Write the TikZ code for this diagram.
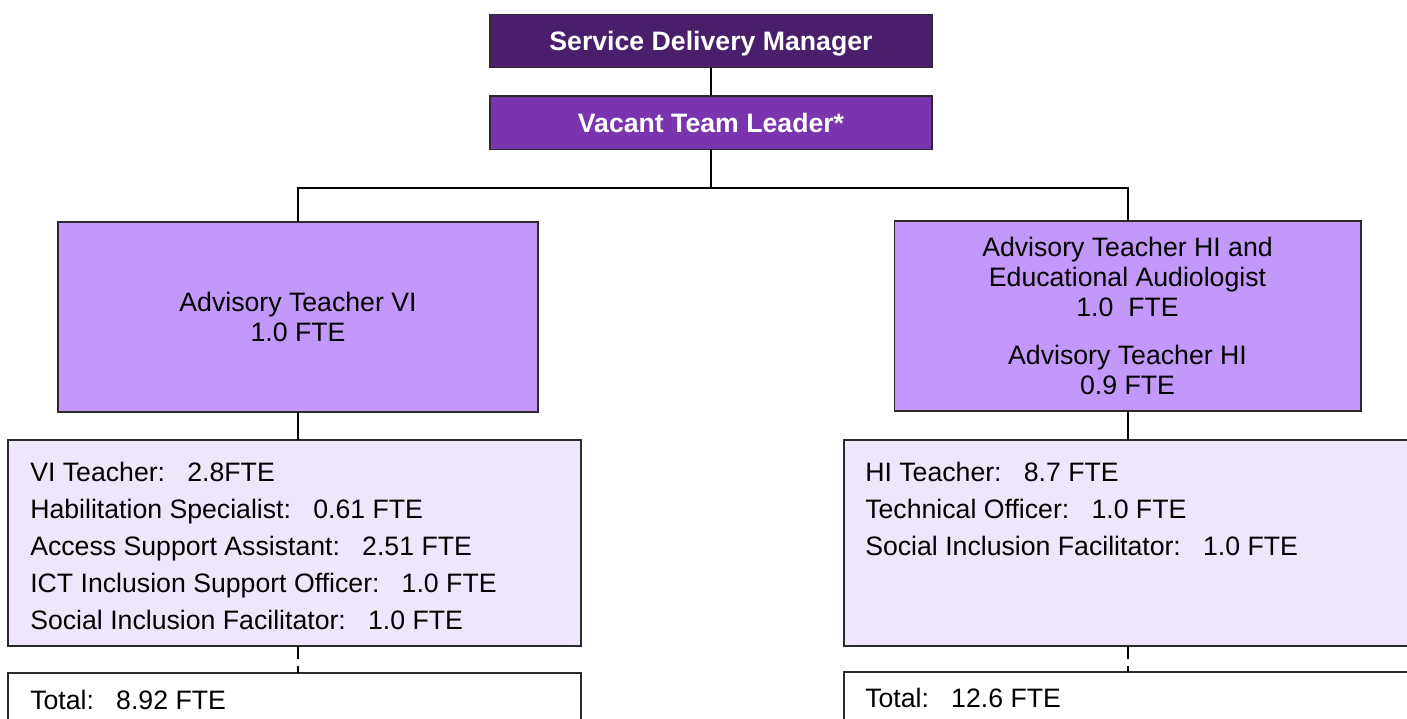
\documentclass[tikz,border=0pt]{standalone}
\usepackage{fontspec}
\setmainfont{Liberation Sans}
\usetikzlibrary{positioning}

\definecolor{sdmpurple}{HTML}{4B1E6B}
\definecolor{leadpurple}{HTML}{7A34AD}
\definecolor{advpurple}{HTML}{C498FA}
\definecolor{staffpurple}{HTML}{F0E6FC}
\definecolor{edgegray}{HTML}{2B2B2B}

\newcommand{\fgap}{\ \ \ }

\begin{document}
\begin{tikzpicture}[x=0.75pt, y=-0.75pt]
        \tikzstyle{box}=[draw=edgegray, line width=1pt, inner sep=0pt, outer sep=0pt]
        \tikzstyle{headbox}=[box, text=white, font=\fontsize{20}{24}\selectfont\bfseries, text height=14.3pt, text depth=0pt, minimum width=331.5pt, minimum height=40pt]
        \tikzstyle{advbox}=[box, fill=advpurple, align=center, font=\fontsize{20}{22.5}\selectfont, minimum height=142.5pt]
        \tikzstyle{listtext}=[inner sep=0pt, anchor=north west, align=left, font=\fontsize{20}{27.75}\selectfont]
        \tikzstyle{link}=[line width=1.5pt, black]
        \tikzstyle{dashlink}=[link, dash pattern=on 10pt off 5pt]

        \useasboundingbox (0,0) rectangle (1407,718);
        \clip (0,0) rectangle (1407,718);

        \node[headbox, fill=sdmpurple] (sdm) at (711,41) {Service Delivery Manager};
        \node[headbox, fill=leadpurple] (lead) at (711,122.5) {Vacant Team Leader*};

        \node[advbox, minimum width=360pt] (advvi) at (298,317) {Advisory Teacher VI\\1.0 FTE};
        \node[advbox, minimum width=350pt] (advhi) at (1127.5,316)
            {Advisory Teacher HI and\\Educational Audiologist\\1.0\ \ FTE\\[13pt]Advisory Teacher HI\\0.9 FTE};

        \node[box, fill=staffpurple, minimum width=429.75pt, minimum height=154.5pt] (staffvi) at (294.5,543) {};
        \node[box, fill=staffpurple, minimum width=447pt, minimum height=154.5pt] (staffhi) at (1142,543) {};
        \node[box, fill=white, minimum width=429.75pt, minimum height=75pt] (totvi) at (294.5,723) {};
        \node[box, fill=white, minimum width=447pt, minimum height=75pt] (tothi) at (1142,722) {};

        \node[listtext] (listvi) at ([xshift=16.5pt, yshift=-16.5pt]staffvi.north west)
            {VI Teacher:\fgap 2.8FTE\\Habilitation Specialist:\fgap 0.61 FTE\\Access Support Assistant:\fgap 2.51 FTE\\ICT Inclusion Support Officer:\fgap 1.0 FTE\\Social Inclusion Facilitator:\fgap 1.0 FTE};
        \node[listtext] (listhi) at ([xshift=15.75pt, yshift=-16.5pt]staffhi.north west)
            {HI Teacher:\fgap 8.7 FTE\\Technical Officer:\fgap 1.0 FTE\\Social Inclusion Facilitator:\fgap 1.0 FTE};
        \node[listtext] (sumvi) at ([xshift=16.5pt, yshift=-13pt]totvi.north west) {Total:\fgap 8.92 FTE};
        \node[listtext] (sumhi) at ([xshift=15.75pt, yshift=-12pt]tothi.north west) {Total:\fgap 12.6 FTE};

        \coordinate (bar) at (711,188);

        \draw[link] (sdm) -- (lead);
        \draw[link] (lead) -- (bar);
        \draw[link] (advvi.north) |- (bar) -| (advhi.north);
        \draw[link] (advvi.south) -- (advvi.south |- staffvi.north);
        \draw[link] (advhi.south) -- (advhi.south |- staffhi.north);
        \draw[dashlink] (advvi.south |- staffvi.south) -- (advvi.south |- totvi.north);
        \draw[dashlink] (advhi.south |- staffhi.south) -- (advhi.south |- tothi.north);
    \end{tikzpicture}
\end{document}
